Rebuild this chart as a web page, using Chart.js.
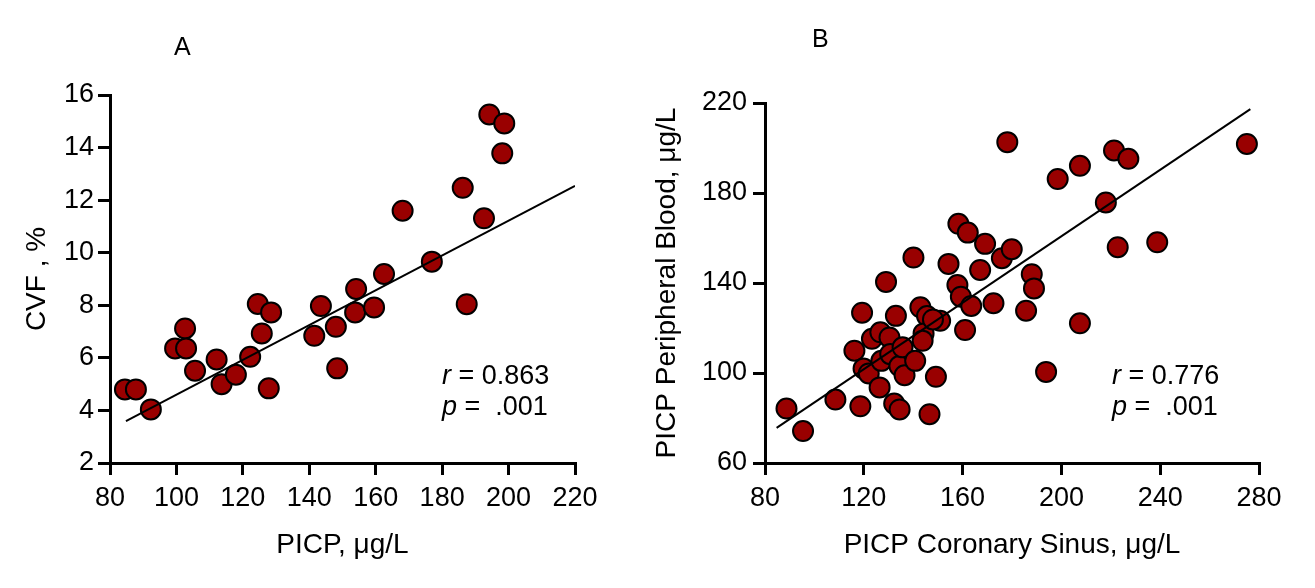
<!DOCTYPE html>
<html>
<head>
<meta charset="utf-8">
<script src="https://cdn.jsdelivr.net/npm/chart.js@4.4.1/dist/chart.umd.min.js"></script>
<style>
  body { margin: 0; background: #fff; width: 1315px; height: 588px; overflow: hidden; position: relative; font-family: 'Liberation Sans', Arial, sans-serif; color: #000; }
  .panel { position: absolute; top: 0; height: 588px; }
  .tag { position: absolute; font-size: 25px; line-height: 1; }
  .stat { position: absolute; font-size: 27px; line-height: 31px; white-space: pre; }
  .stat i { font-style: italic; }
</style>
</head>
<body>
<div class="panel" style="left:0;width:620px"><canvas id="chartA"></canvas></div>
<div class="panel" style="left:640px;width:675px"><canvas id="chartB"></canvas></div>
<div class="tag" style="left:174px;top:34px">A</div>
<div class="tag" style="left:812px;top:26px">B</div>
<div class="stat" style="left:442px;top:360px"><i>r</i> = 0.863
<i>p</i> =  .001</div>
<div class="stat" style="left:1112px;top:360px"><i>r</i> = 0.776
<i>p</i> =  .001</div>
<script>
// Panel A: PICP vs CVF
const picpA = [84.5, 87.8, 92.3, 99.6, 102.6, 102.9, 105.6, 112.1, 113.6, 117.9, 122.2, 124.5, 128.5, 125.7, 127.8, 141.5,
    143.5, 148.0, 148.4, 153.8, 154.1, 159.5, 162.5, 168.1, 176.9, 186.2, 187.4, 192.6, 194.2, 198.7, 198.1];
const cvfA = [4.80, 4.80, 4.04, 6.36, 7.12, 6.36, 5.51, 5.94, 5.00, 5.36, 6.04, 8.05, 7.73, 6.93, 4.84, 6.84,
    7.97, 7.18, 5.60, 7.73, 8.62, 7.92, 9.19, 11.60, 9.66, 12.47, 8.04, 11.31, 15.26, 14.92, 13.78];
const fitA_x = [84.8, 220];
const fitA_y = [3.59, 12.54];

// Panel B: coronary sinus vs peripheral blood
const sinusB = [88.7, 95.4, 108.5, 118.6, 116.2, 119.3, 119.9, 122.0, 126.4, 123.3, 126.7, 130.4, 129.0, 127.1, 130.7,
    132.3, 134.5, 133.0, 134.4, 135.7, 136.5, 140.8, 140.1, 142.9, 145.6, 144.2, 143.8, 146.6, 149.2, 150.9, 148.0,
    154.3, 157.9, 159.3, 161.0, 163.5, 158.3, 162.1, 169.1, 167.1, 172.5, 175.9, 179.9, 178.1, 188.0, 188.9, 185.7,
    193.8, 198.5, 207.5, 207.5, 218.0, 221.3, 227.1, 222.8, 238.8, 275.1];
const bloodB = [84.2, 74.2, 88.2, 85.2, 109.9, 126.8, 102.0, 99.8, 93.6, 115.2, 118.1, 115.8, 140.5, 105.4, 108.4,
    86.4, 83.8, 125.4, 103.1, 111.4, 99.0, 105.4, 151.3, 129.2, 125.3, 117.6, 114.3, 81.7, 98.3, 123.2, 123.8,
    148.5, 139.1, 133.9, 119.1, 129.8, 166.3, 162.4, 157.4, 145.8, 131.0, 151.0, 155.0, 202.6, 143.9, 137.6, 127.7,
    100.5, 186.2, 192.1, 122.1, 175.8, 198.9, 195.2, 155.9, 158.1, 201.8];
const fitB_x = [84.7, 276.5];
const fitB_y = [75.6, 217.3];

const FONT = "'Liberation Sans', Arial, sans-serif";

function pairs(xs, ys) {
    return xs.map((x, i) => ({ x, y: ys[i] }));
}

function axis(opts) {
    return {
        type: 'linear',
        min: opts.min,
        max: opts.max,
        afterFit: opts.fit,
        ticks: { stepSize: opts.step, color: '#000', padding: opts.tickPad, font: { family: FONT, size: 27 } },
        grid: { display: true, drawOnChartArea: false, drawTicks: true, tickLength: 12, color: '#000', lineWidth: 3 },
        border: { display: true, color: '#000', width: 3 },
        title: { display: true, text: opts.title, color: '#000', font: { family: FONT, size: 28 }, padding: opts.titlePad },
    };
}

function makeChart(id, pts, fit, cfg) {
    new Chart(document.getElementById(id), {
        type: 'scatter',
        data: {
            datasets: [
                { data: fit, showLine: true, pointRadius: 0, borderColor: '#000', borderWidth: 2 },
                { data: pts, pointRadius: 10, pointHoverRadius: 10, backgroundColor: '#990000', borderColor: '#000', borderWidth: 2 },
            ],
        },
        options: {
            responsive: true,
            maintainAspectRatio: false,
            animation: false,
            layout: { padding: cfg.padding },
            plugins: { legend: { display: false }, tooltip: { enabled: false } },
            scales: { x: axis(cfg.x), y: axis(cfg.y) },
        },
    });
}

makeChart('chartA', pairs(picpA, cvfA), pairs(fitA_x, fitA_y), {
    padding: { left: 0, top: 95, right: 45, bottom: 0 },
    x: { min: 80, max: 220, step: 20, tickPad: 7, title: 'PICP, μg/L', titlePad: { top: 0, bottom: 26 }, fit: (s) => { s.height = 125; } },
    y: { min: 2, max: 16, step: 2, tickPad: 4, title: 'CVF , %', titlePad: { top: 20, bottom: 0 }, fit: (s) => { s.width = 110; } },
});

makeChart('chartB', pairs(sinusB, bloodB), pairs(fitB_x, fitB_y), {
    padding: { left: 0, top: 103, right: 56, bottom: 0 },
    x: { min: 80, max: 280, step: 40, tickPad: 7, title: 'PICP Coronary Sinus, μg/L', titlePad: { top: 0, bottom: 26 }, fit: (s) => { s.height = 125; } },
    y: { min: 60, max: 220, step: 40, tickPad: 6, title: 'PICP Peripheral Blood, μg/L', titlePad: { top: 10, bottom: 0 }, fit: (s) => { s.width = 125; } },
});
</script>
</body>
</html>
